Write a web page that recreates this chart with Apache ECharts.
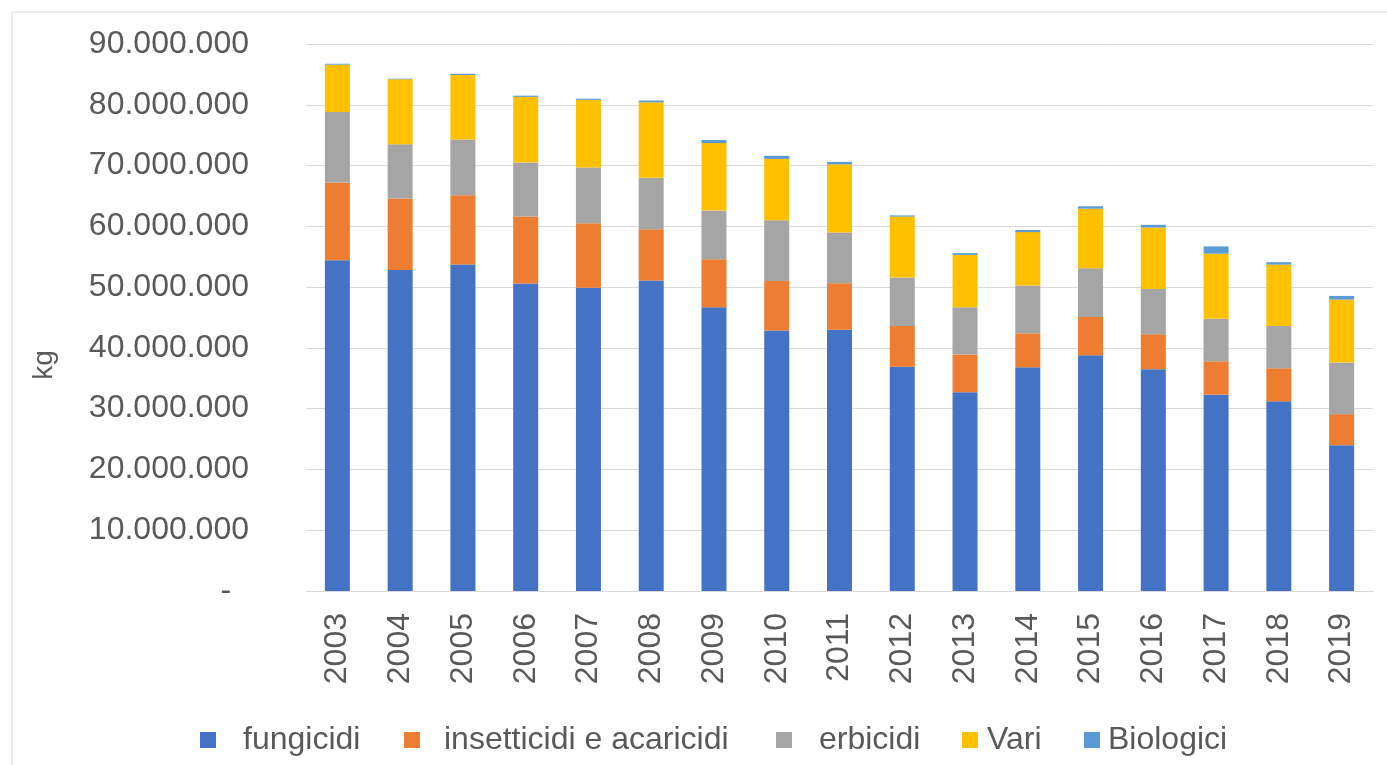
<!DOCTYPE html>
<html>
<head>
<meta charset="utf-8">
<script src="https://cdn.jsdelivr.net/npm/echarts@6/dist/echarts.min.js"></script>
<style>html,body{margin:0;padding:0;background:#fff}#c{width:1387px;height:765px}</style>
</head>
<body>
<div id="c"></div>
<script>
var years = ['2003','2004','2005','2006','2007','2008','2009','2010','2011','2012','2013','2014','2015','2016','2017','2018','2019'];
var fungicidi = [54400000,52800000,53700000,50600000,49900000,51100000,46700000,42850000,43000000,36900000,32700000,36800000,38800000,36500000,32300000,31200000,24000000];
var insetticidi = [12800000,11800000,11400000,11000000,10600000,8400000,7900000,8150000,7650000,6700000,6200000,5600000,6300000,5750000,5500000,5450000,5100000];
var erbicidi = [11600000,8900000,9200000,8900000,9200000,8500000,8000000,10000000,8350000,8000000,7800000,7850000,8000000,7450000,7000000,6950000,8500000];
var vari = [7800000,10700000,10600000,10800000,11100000,12400000,11100000,10100000,11200000,10000000,8600000,8800000,9800000,10100000,10700000,10100000,10350000];
var biologici = [150000,100000,200000,200000,200000,300000,500000,500000,400000,200000,300000,350000,400000,450000,1200000,400000,600000];
var seriesNames = ['fungicidi','insetticidi e acaricidi','erbicidi','Vari','Biologici'];
var seriesData = [fungicidi, insetticidi, erbicidi, vari, biologici];
var colors = ['#4472C4','#ED7D31','#A5A5A5','#FFC000','#5B9BD5'];

var FONT = '"Liberation Sans", Arial, sans-serif';
var TXT = '#595959';

function fmt(v){
  if (v === 0) return '-  ';
  return String(Math.round(v)).replace(/\B(?=(\d{3})+(?!\d))/g, '.');
}

var legendLeft = [200, 404, 776, 962, 1084];
var legendPad = [22, 19, 22, 4, 3];
var legends = seriesNames.map(function(n, i){
  return {
    data: [n], left: legendLeft[i], top: 724, orient: 'horizontal',
    itemWidth: 16, itemHeight: 16, icon: 'rect', padding: 0,
    textStyle: {fontFamily: FONT, fontSize: 32, color: TXT, padding: [0,0,0,legendPad[i]]},
    selectedMode: false
  };
});

var chart = echarts.init(document.getElementById('c'), null, {renderer: 'canvas'});
chart.setOption({
  animation: false,
  color: colors,
  grid: {left: 306, right: 14, top: 44, bottom: 174, containLabel: false, outerBoundsMode: 'none'},
  legend: legends,
  graphic: [
    {type: 'rect', shape: {x: 12, y: 12, width: 1400, height: 800}, style: {fill: 'none', stroke: '#d9d9d9', lineWidth: 1}, silent: true},
    {type: 'text', x: 44, y: 365, rotation: Math.PI/2, style: {text: 'kg', font: '28px ' + FONT, fill: TXT, align: 'center', verticalAlign: 'middle'}}
  ],
  xAxis: {
    type: 'category', data: years,
    axisLine: {lineStyle: {color: '#d9d9d9'}},
    axisTick: {show: false},
    axisLabel: {rotate: 90, fontFamily: FONT, fontSize: 32, color: TXT, margin: 22, interval: 0}
  },
  yAxis: {
    type: 'value', min: 0, max: 90000000, interval: 10000000,
    axisLine: {show: false}, axisTick: {show: false},
    splitLine: {lineStyle: {color: '#d9d9d9', width: 1}},
    axisLabel: {fontFamily: FONT, fontSize: 32, color: TXT, margin: 57, formatter: fmt}
  },
  series: seriesNames.map(function(n, i){
    return {name: n, type: 'bar', stack: 'tot', data: seriesData[i], barWidth: 25, itemStyle: {color: colors[i]}};
  })
});
</script>
</body>
</html>
